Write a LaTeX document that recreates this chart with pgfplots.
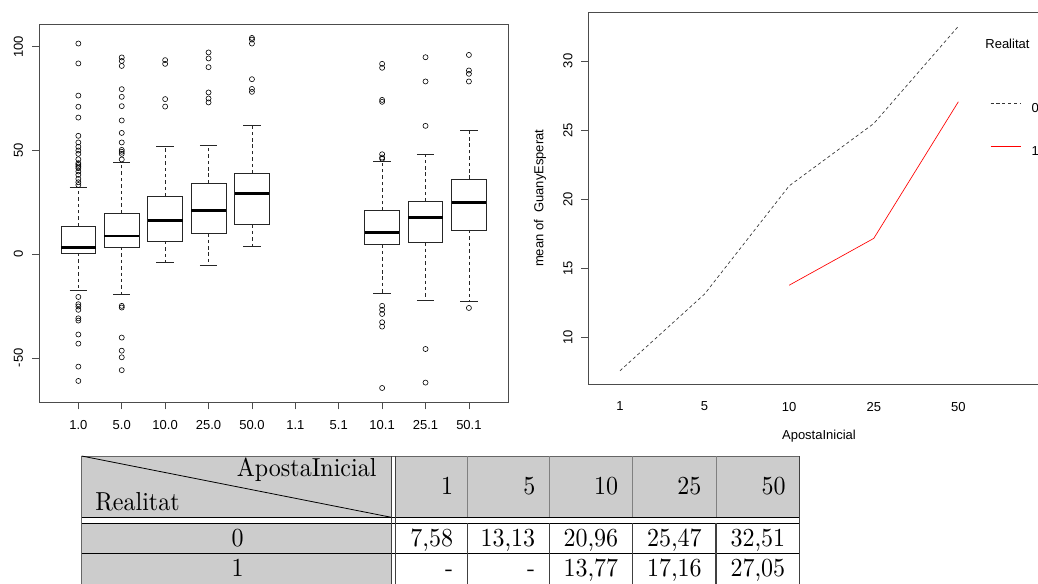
\documentclass[border=0pt]{standalone}
\usepackage{fontspec}
\usepackage{graphicx}
\usepackage{pgfplots}
\pgfplotsset{compat=1.18}
\usepgfplotslibrary{statistics}
\newfontfamily\arial{Liberation Sans}
\newcommand\rfont{\arial\fontsize{9.75}{11.7}\selectfont}
\definecolor{tabgray}{RGB}{204,204,204}
\definecolor{rred}{RGB}{255,0,0}
\newcommand\tb[1]{\scalebox{1.8}[1.95]{\normalsize #1}}

\pgfplotsset{
  rbox/.style={
    solid, black!85, line width=0.6pt,
    mark=o, mark size=1.9pt, mark options={solid, line width=0.45pt, black},
    boxplot/box extend=0.8,
    boxplot/whisker extend=0.4,
    boxplot/every median/.style={line width=2.2pt, black},
    boxplot/every whisker/.style={dash pattern=on 2.6pt off 2.2pt},
    boxplot/draw/lower whisker/.code={%
      \draw[/pgfplots/boxplot/every whisker/.try]
        (boxplot cs:\pgfplotsboxplotvalue{lower quartile}) --
        (boxplot cs:\pgfplotsboxplotvalue{lower whisker});
      \draw (boxplot whisker cs:\pgfplotsboxplotvalue{lower whisker},0) --
        (boxplot whisker cs:\pgfplotsboxplotvalue{lower whisker},1);
    },
    boxplot/draw/upper whisker/.code={%
      \draw[/pgfplots/boxplot/every whisker/.try]
        (boxplot cs:\pgfplotsboxplotvalue{upper quartile}) --
        (boxplot cs:\pgfplotsboxplotvalue{upper whisker});
      \draw (boxplot whisker cs:\pgfplotsboxplotvalue{upper whisker},0) --
        (boxplot whisker cs:\pgfplotsboxplotvalue{upper whisker},1);
    },
  },
  raxis/.style={
    scale only axis,
    anchor=south west,
    axis line style={black!70, line width=0.6pt},
    tick style={black!70, line width=0.6pt},
    tick align=outside,
    major tick length=5.25pt,
    xtick pos=lower, ytick pos=left,
    tick label style={font=\rfont, inner sep=0pt},
    xticklabel style={anchor=north},
    yticklabel style={rotate=90, anchor=south},
  },
}

\begin{document}
\begin{tikzpicture}
\useasboundingbox (0,0) rectangle (778.5pt,437.25pt);
\clip (0,0) rectangle (778.5pt,437.25pt);

% ---------------- boxplot ----------------
\begin{axis}[raxis,
  at={(29.475pt,135.525pt)},
  width=351.5pt, height=283.7pt,
  xmin=0.1, xmax=10.9, ymin=-71.4, ymax=111.0,
  xtick={1,2,3,4,5,6,7,8,9,10},
  xticklabels={1.0,5.0,10.0,25.0,50.0,1.1,5.1,10.1,25.1,50.1},
  ytick={-50,0,50,100},
  yticklabels={-50,0,50,100},
  xticklabel shift=8.5pt,
  yticklabel shift=6.75pt,
  boxplot/draw direction=y,
]
\addplot[rbox, boxplot prepared={draw position=1, lower whisker=-17.4, lower quartile=0.6, median=3.2, upper quartile=13.5, upper whisker=32.3}]
 table[row sep=\\, y index=0] {y\\ 101.6\\ 92.0\\ 76.5\\ 71.1\\ 65.9\\ 57.1\\ 53.9\\ 51.8\\ 50.0\\ 48.4\\ 45.8\\ 43.9\\ 43.1\\ 42.3\\ 41.5\\ 39.9\\ 38.3\\ 36.3\\ 34.7\\ 33.4\\ -20.6\\ -24.1\\ -25.2\\ -26.8\\ -30.9\\ -32.0\\ -38.7\\ -43.1\\ -54.2\\ -61.1\\};
\addplot[rbox, boxplot prepared={draw position=2, lower whisker=-19.6, lower quartile=3.5, median=8.8, upper quartile=19.8, upper whisker=44.1}]
 table[row sep=\\, y index=0] {y\\ 94.9\\ 93.2\\ 90.8\\ 79.6\\ 75.9\\ 71.4\\ 64.5\\ 58.5\\ 53.9\\ 50.3\\ 49.4\\ 48.4\\ 45.7\\ -24.9\\ -25.7\\ -40.2\\ -46.5\\ -49.7\\ -55.9\\};
\addplot[rbox, boxplot prepared={draw position=3, lower whisker=-4.0, lower quartile=6.4, median=16.2, upper quartile=27.8, upper whisker=51.9}]
 table[row sep=\\, y index=0] {y\\ 93.6\\ 91.8\\ 74.8\\ 71.2\\};
\addplot[rbox, boxplot prepared={draw position=4, lower whisker=-5.3, lower quartile=10.1, median=20.9, upper quartile=34.2, upper whisker=52.3}]
 table[row sep=\\, y index=0] {y\\ 97.3\\ 94.4\\ 90.2\\ 78.0\\ 75.1\\ 73.2\\};
\addplot[rbox, boxplot prepared={draw position=5, lower whisker=3.9, lower quartile=14.3, median=29.1, upper quartile=38.9, upper whisker=62.1}]
 table[row sep=\\, y index=0] {y\\ 104.3\\ 103.5\\ 101.6\\ 84.4\\ 79.7\\ 78.3\\};
\addplot[rbox, boxplot prepared={draw position=8, lower whisker=-18.8, lower quartile=4.7, median=10.6, upper quartile=20.9, upper whisker=44.9}]
 table[row sep=\\, y index=0] {y\\ 91.8\\ 89.9\\ 74.4\\ 73.5\\ 48.2\\ 46.6\\ 46.0\\ -24.9\\ -26.8\\ -28.8\\ -32.8\\ -34.9\\ -64.5\\};
\addplot[rbox, boxplot prepared={draw position=9, lower whisker=-22.2, lower quartile=5.8, median=17.7, upper quartile=25.4, upper whisker=48.2}]
 table[row sep=\\, y index=0] {y\\ 95.0\\ 83.3\\ 61.9\\ -45.7\\ -61.9\\};
\addplot[rbox, boxplot prepared={draw position=10, lower whisker=-22.8, lower quartile=11.7, median=25.1, upper quartile=36.3, upper whisker=59.6}]
 table[row sep=\\, y index=0] {y\\ 96.1\\ 88.6\\ 87.0\\ 83.3\\ -25.9\\};
\end{axis}

% ---------------- interaction plot ----------------
\begin{axis}[raxis,
  at={(441.225pt,149.025pt)},
  width=367.275pt, height=279pt,
  xmin=0.6256, xmax=6.414, ymin=6.60, ymax=33.52,
  xtick={1,2,3,4,5},
  xticklabels={1,5,10,25,50},
  x tick style={draw=none},
  ytick={10,15,20,25,30},
  yticklabels={10,15,20,25,30},
  xticklabel shift=7.8pt,
  yticklabel shift=6.45pt,
  xlabel={ApostaInicial},
  ylabel={mean of\ \ GuanyEsperat},
  every axis x label/.style={at={(axis description cs:0.471,-0.139)}, anchor=center, font=\rfont},
  every axis y label/.style={at={(axis description cs:-0.0986,0.5)}, rotate=90, anchor=center, font=\rfont},
  legend style={draw=none, fill=none, at={(axis cs:5.375,25.05)}, anchor=west,
    inner sep=0pt, outer sep=0pt, row sep=25.25pt, column sep=8pt,
    nodes={inner sep=0pt, text height=7pt, text depth=0pt, font=\rfont}},
  legend cell align=left,
  legend image code/.code={\draw[#1, line width=0.65pt] (0pt,3.5pt) -- (22.5pt,3.5pt);},
]
\addplot[color=black!80, dash pattern=on 2.4pt off 2pt, line width=0.5pt]
  coordinates {(1,7.58) (2,13.13) (3,20.96) (4,25.47) (5,32.51)};
\addlegendentry{0}
\addplot[color=rred, line width=0.5pt]
  coordinates {(3,13.77) (4,17.16) (5,27.05)};
\addlegendentry{1}
\node[anchor=west, inner sep=0pt, font=\rfont] at (axis cs:5.316,31.23) {Realitat};
\end{axis}

% ---------------- table ----------------
\begin{scope}[x=0.75pt, y=-0.75pt, yshift=437.25pt]
  \fill[tabgray] (81.7,456) rectangle (391.3,517.3);
  \fill[tabgray] (395.3,456) rectangle (799.3,517.3);
  \fill[tabgray] (81.7,523.3) rectangle (391.3,600);
  \draw[black!60, line width=0.7pt] (81.7,456) -- (799.3,456);
  \draw[black!60, line width=0.7pt] (81.7,456) -- (81.7,600);
  \draw[black, line width=0.8pt] (81.7,517.3) -- (799.3,517.3);
  \draw[black, line width=0.8pt] (81.7,523.3) -- (799.3,523.3);
  \draw[black, line width=0.8pt] (81.7,553.3) -- (799.3,553.3);
  \draw[black!75, line width=0.8pt] (391.3,456) -- (391.3,600);
  \draw[black!75, line width=0.8pt] (395.3,456) -- (395.3,600);
  \foreach \cx in {467.3,549.3,632.7,716} {
    \draw[black!50, line width=0.7pt] (\cx,456) -- (\cx,517.3);
    \draw[black!75, line width=0.8pt] (\cx,523.3) -- (\cx,600);
  }
  \draw[black!75, line width=0.8pt] (799.3,456) -- (799.3,600);
  \draw[black, line width=0.6pt] (81.7,456) -- (391.3,517.3);
  \node[inner sep=0pt, anchor=base east] at (376.7,476.7) {\tb{ApostaInicial}};
  \node[inner sep=0pt, anchor=base west] at (95,510) {\tb{Realitat}};
  \node[inner sep=0pt, anchor=base east] at (453.3,494.3) {\tb{1}};
  \node[inner sep=0pt, anchor=base east] at (535.7,494.3) {\tb{5}};
  \node[inner sep=0pt, anchor=base east] at (618.5,494.3) {\tb{10}};
  \node[inner sep=0pt, anchor=base east] at (701.7,494.3) {\tb{25}};
  \node[inner sep=0pt, anchor=base east] at (786,494.3) {\tb{50}};
  \node[inner sep=0pt, anchor=base] at (237.5,546.5) {\tb{0}};
  \node[inner sep=0pt, anchor=base east] at (453.3,546.5) {\tb{7,58}};
  \node[inner sep=0pt, anchor=base east] at (535.5,546.5) {\tb{13,13}};
  \node[inner sep=0pt, anchor=base east] at (618.5,546.5) {\tb{20,96}};
  \node[inner sep=0pt, anchor=base east] at (702,546.5) {\tb{25,47}};
  \node[inner sep=0pt, anchor=base east] at (785.5,546.5) {\tb{32,51}};
  \node[inner sep=0pt, anchor=base] at (237.5,576.5) {\tb{1}};
  \node[inner sep=0pt, anchor=base east] at (453.3,576.5) {\tb{-}};
  \node[inner sep=0pt, anchor=base east] at (535.5,576.5) {\tb{-}};
  \node[inner sep=0pt, anchor=base east] at (618.5,576.5) {\tb{13,77}};
  \node[inner sep=0pt, anchor=base east] at (702,576.5) {\tb{17,16}};
  \node[inner sep=0pt, anchor=base east] at (785.5,576.5) {\tb{27,05}};
\end{scope}
\end{tikzpicture}
\end{document}
